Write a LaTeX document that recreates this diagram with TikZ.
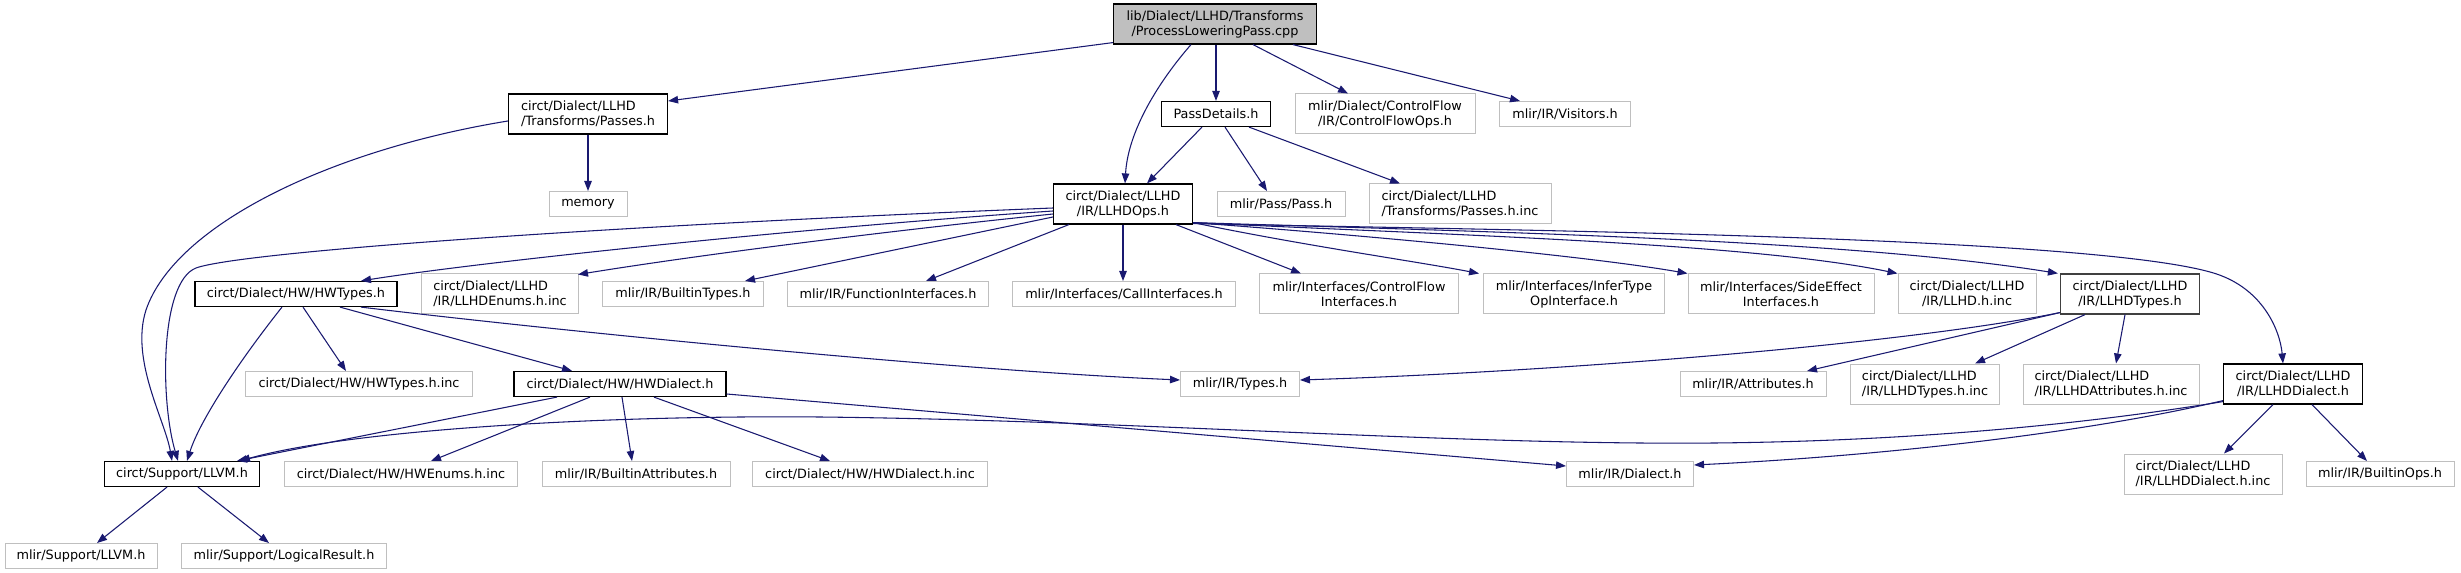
\documentclass[tikz,border=0pt]{standalone}
\usepackage{fontspec}
\setmainfont{DejaVu Sans}
\usetikzlibrary{arrows.meta,calc}
\definecolor{edgeblue}{HTML}{191970}
\definecolor{lightborder}{HTML}{BFBFBF}
\definecolor{rootfill}{HTML}{BFBFBF}
\tikzset{
  base/.style={rectangle, inner sep=0pt, font=\fontsize{9.6}{11.25}\selectfont, align=center, minimum height=18.75pt},
  undoc/.style={base, draw=lightborder, line width=0.75pt},
  doc/.style={base, draw=black, line width=0.9pt},
  two/.style={minimum height=30pt},
  wd/.style={minimum width=#1*0.75pt},
  edge/.style={draw=edgeblue, line width=0.8pt, -{Triangle[length=7.5pt,width=5.6pt]}},
}
\begin{document}
\begin{tikzpicture}[x=0.75pt,y=-0.75pt]
\useasboundingbox (0,0) rectangle (2461,573);
% row 1
\node[doc, fill=rootfill, two, wd=203] (root) at (1215,24) {lib/Dialect/LLHD/Transforms\\/ProcessLoweringPass.cpp};
% row 2
\node[doc, two, wd=159, align=left] (passes) at (588,114) {circt/Dialect/LLHD\\/Transforms/Passes.h};
\node[doc, wd=109] (passdetails) at (1216,114) {PassDetails.h};
\node[undoc, two, wd=180] (cfops) at (1385,114) {mlir/Dialect/ControlFlow\\/IR/ControlFlowOps.h};
\node[undoc, wd=131] (visitors) at (1565,114) {mlir/IR/Visitors.h};
% row 3
\node[undoc, wd=78] (memory) at (588,204) {memory};
\node[doc, two, wd=139] (llhdops) at (1123,204) {circt/Dialect/LLHD\\/IR/LLHDOps.h};
\node[undoc, wd=128] (pass) at (1281,204) {mlir/Pass/Pass.h};
\node[undoc, two, wd=182, align=left] (passesinc) at (1460,204) {circt/Dialect/LLHD\\/Transforms/Passes.h.inc};
% row 4
\node[doc, wd=202] (hwtypes) at (296,294) {circt/Dialect/HW/HWTypes.h};
\node[undoc, two, wd=157, align=left] (llhdenums) at (500,294) {circt/Dialect/LLHD\\/IR/LLHDEnums.h.inc};
\node[undoc, wd=161] (builtintypes) at (683,294) {mlir/IR/BuiltinTypes.h};
\node[undoc, wd=201] (funcif) at (888,294) {mlir/IR/FunctionInterfaces.h};
\node[undoc, wd=223] (callif) at (1124,294) {mlir/Interfaces/CallInterfaces.h};
\node[undoc, two, wd=199] (cfif) at (1359,294) {mlir/Interfaces/ControlFlow\\Interfaces.h};
\node[undoc, two, wd=181] (infertype) at (1574,294) {mlir/Interfaces/InferType\\OpInterface.h};
\node[undoc, two, wd=186] (sideeffect) at (1781,294) {mlir/Interfaces/SideEffect\\Interfaces.h};
\node[undoc, two, wd=138] (llhdinc) at (1967,294) {circt/Dialect/LLHD\\/IR/LLHD.h.inc};
\node[doc, two, wd=139, draw=black!75] (llhdtypes) at (2130,294) {circt/Dialect/LLHD\\/IR/LLHDTypes.h};
% row 5
\node[undoc, wd=227] (hwtypesinc) at (359,384) {circt/Dialect/HW/HWTypes.h.inc};
\node[doc, wd=212] (hwdialect) at (620,384) {circt/Dialect/HW/HWDialect.h};
\node[undoc, wd=119] (types) at (1240,384) {mlir/IR/Types.h};
\node[undoc, wd=146] (attributes) at (1753,384) {mlir/IR/Attributes.h};
\node[undoc, two, wd=149, align=left] (llhdtypesinc) at (1925,384) {circt/Dialect/LLHD\\/IR/LLHDTypes.h.inc};
\node[undoc, two, wd=176, align=left] (llhdattrinc) at (2111,384) {circt/Dialect/LLHD\\/IR/LLHDAttributes.h.inc};
\node[doc, two, wd=139] (llhddialect) at (2293,384) {circt/Dialect/LLHD\\/IR/LLHDDialect.h};
% row 6
\node[doc, wd=155] (circtllvm) at (182,474) {circt/Support/LLVM.h};
\node[undoc, wd=233] (hwenums) at (401,474) {circt/Dialect/HW/HWEnums.h.inc};
\node[undoc, wd=188] (builtinattr) at (636,474) {mlir/IR/BuiltinAttributes.h};
\node[undoc, wd=235] (hwdialectinc) at (870,474) {circt/Dialect/HW/HWDialect.h.inc};
\node[undoc, wd=127] (dialect) at (1630,474) {mlir/IR/Dialect.h};
\node[undoc, two, wd=158, align=left] (llhddialectinc) at (2203,474) {circt/Dialect/LLHD\\/IR/LLHDDialect.h.inc};
\node[undoc, wd=148] (builtinops) at (2380,474) {mlir/IR/BuiltinOps.h};
% row 7
\node[undoc, wd=152] (mlirllvm) at (81,556) {mlir/Support/LLVM.h};
\node[undoc, wd=205] (logical) at (284,556) {mlir/Support/LogicalResult.h};

% edges from root
\draw[edge] ($(root.south west)+(0,-2)$) -- ($(passes.east)+(0,-13)$);
\draw[edge] ($(root.south)+(-24,0)$) .. controls (1160,80) and (1128,130) .. ($(llhdops.north)+(2,0)$);
\draw[edge] ($(root.south)+(1,0)$) -- (passdetails.north);
\draw[edge] ($(root.south)+(38,0)$) -- ($(cfops.north)+(-37,0)$);
\draw[edge] ($(root.south)+(78,0)$) -- ($(visitors.north)+(-45,0)$);
% passes
\draw[edge] (passes.south) -- (memory.north);
\draw[edge] ($(passes.west)+(0,7)$) .. controls (330,150) and (175,225) .. (146,310) .. controls (130,360) and (165,420) .. ($(circtllvm.north)+(-10,0)$);
% passdetails
\draw[edge] ($(passdetails.south)+(-14,0)$) -- ($(llhdops.north)+(24,0)$);
\draw[edge] ($(passdetails.south)+(9,0)$) -- ($(pass.north)+(-14,0)$);
\draw[edge] ($(passdetails.south)+(33,0)$) -- ($(passesinc.north)+(-60,0)$);
% llhdops
\draw[edge] ($(llhdops.west)+(0,4)$) .. controls (600,226) and (240,252) .. (196,268) .. controls (160,282) and (160,400) .. ($(circtllvm.north)+(-4,0)$);
\draw[edge] ($(llhdops.west)+(0,7)$) .. controls (800,228) and (480,262) .. ($(hwtypes.north)+(65,0)$);
\draw[edge] ($(llhdops.west)+(0,10)$) .. controls (850,235) and (680,258) .. ($(llhdenums.north east)+(-1,1)$);
\draw[edge] ($(llhdops.west)+(0,13)$) -- ($(builtintypes.north)+(62,0)$);
\draw[edge] ($(llhdops.south west)+(16,0)$) -- ($(funcif.north)+(38,0)$);
\draw[edge] (llhdops.south) -- ($(callif.north)+(-1,0)$);
\draw[edge] ($(llhdops.south)+(53,0)$) -- ($(cfif.north)+(-58,0)$);
\draw[edge] ($(llhdops.south east)+(0,-2)$) .. controls (1300,245) and (1420,262) .. ($(infertype.north west)+(-4,0)$);
\draw[edge] ($(llhdops.south east)+(0,-2)$) .. controls (1400,238) and (1600,258) .. (sideeffect.north west);
\draw[edge] ($(llhdops.south east)+(0,-2)$) .. controls (1450,235) and (1750,243) .. (llhdinc.north west);
\draw[edge] ($(llhdops.south east)+(0,-2)$) .. controls (1500,232) and (1850,240) .. ($(llhdtypes.north west)+(-2,0)$);
\draw[edge] ($(llhdops.south east)+(0,-1)$) .. controls (1500,230) and (2080,236) .. (2210,272) .. controls (2262,286) and (2280,330) .. ($(llhddialect.north)+(-10,0)$);
% hwtypes
\draw[edge] ($(hwtypes.south)+(-14,0)$) .. controls (240,360) and (200,420) .. ($(circtllvm.north)+(5,0)$);
\draw[edge] ($(hwtypes.south)+(7,0)$) -- ($(hwtypesinc.north)+(-13,0)$);
\draw[edge] ($(hwtypes.south)+(44,0)$) -- ($(hwdialect.north)+(-48,0)$);
\draw[edge] ($(hwtypes.south)+(65,0)$) .. controls (550,330) and (950,370) .. ($(types.west)+(0,-4)$);
% hwdialect
\draw[edge] ($(hwdialect.south)+(-63,0)$) -- ($(circtllvm.north)+(55,0)$);
\draw[edge] ($(hwdialect.south)+(-30,0)$) -- ($(hwenums.north)+(30,0)$);
\draw[edge] ($(hwdialect.south)+(2,0)$) -- ($(builtinattr.north)+(-4,0)$);
\draw[edge] ($(hwdialect.south)+(34,0)$) -- ($(hwdialectinc.north)+(-40,0)$);
\draw[edge] ($(hwdialect.east)+(0,10)$) -- ($(dialect.west)+(0,-8)$);
% llhddialect
\draw[edge] ($(llhddialect.south west)+(0,-3)$) .. controls (2050,430) and (1850,445) .. (1640,443) .. controls (1400,441) and (1100,420) .. (820,417) .. controls (600,415) and (350,430) .. ($(circtllvm.north)+(58,0)$);
\draw[edge] ($(llhddialect.south west)+(0,-4)$) .. controls (2100,430) and (1900,455) .. ($(dialect.east)+(0,-9)$);
\draw[edge] ($(llhddialect.south)+(-20,0)$) -- ($(llhddialectinc.north)+(21,0)$);
\draw[edge] ($(llhddialect.south)+(19,0)$) -- ($(builtinops.north)+(-13,0)$);
% llhdtypes
\draw[edge] ($(llhdtypes.south west)+(0,-2)$) .. controls (1900,345) and (1550,372) .. ($(types.east)+(0,-4)$);
\draw[edge] ($(llhdtypes.south west)+(0,-2)$) -- ($(attributes.north)+(54,0)$);
\draw[edge] ($(llhdtypes.south)+(-45,0)$) -- ($(llhdtypesinc.north)+(50,0)$);
\draw[edge] ($(llhdtypes.south)+(-5,0)$) -- ($(llhdattrinc.north)+(5,0)$);
% circt llvm
\draw[edge] ($(circtllvm.south)+(-15,0)$) -- ($(mlirllvm.north)+(16,0)$);
\draw[edge] ($(circtllvm.south)+(16,0)$) -- ($(logical.north)+(-15,0)$);
\end{tikzpicture}
\end{document}
